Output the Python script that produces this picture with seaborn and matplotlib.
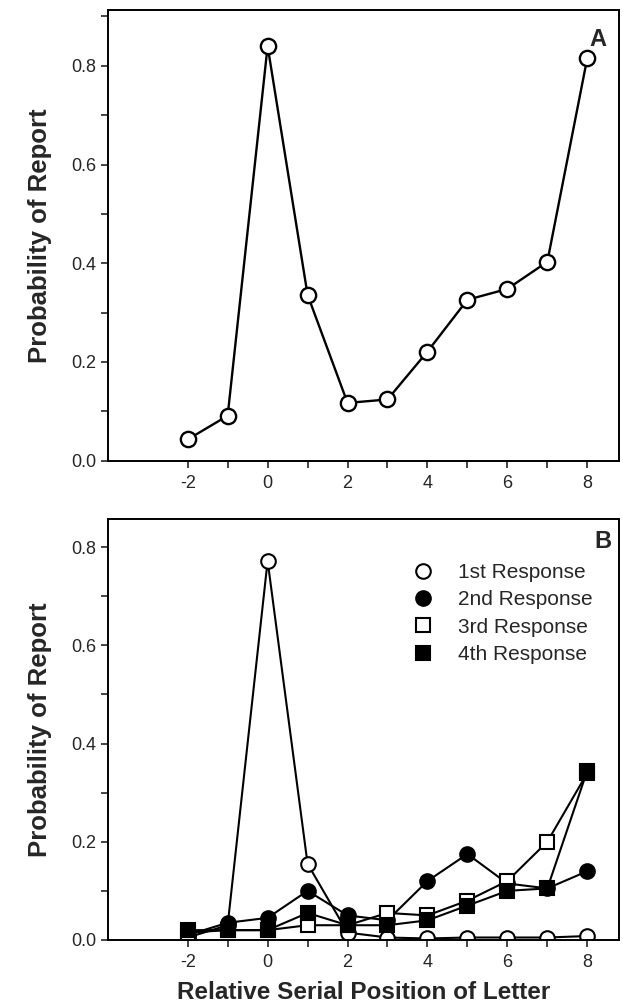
import numpy as np
import pandas as pd
import seaborn as sns
import matplotlib.pyplot as plt
from matplotlib.lines import Line2D
from matplotlib.ticker import MultipleLocator, FixedLocator

sns.set_style("ticks")
plt.rcParams['font.family'] = ['Liberation Sans', 'DejaVu Sans']
plt.rcParams['axes.unicode_minus'] = False

# serial positions relative to target
positions = [-2, -1, 0, 1, 2, 3, 4, 5, 6, 7, 8]

# panel A: overall probability of report
overall = [0.043, 0.091, 0.84, 0.336, 0.117, 0.124, 0.221, 0.326, 0.348, 0.403, 0.816]

# panel B: by response order
resp1 = [0.005, 0.03, 0.772, 0.155, 0.015, 0.005, 0.003, 0.005, 0.005, 0.005, 0.008]
resp2 = [0.01, 0.035, 0.045, 0.10, 0.05, 0.04, 0.12, 0.175, 0.115, 0.105, 0.14]
resp3 = [0.015, 0.02, 0.02, 0.03, 0.03, 0.055, 0.05, 0.08, 0.12, 0.20, 0.34]
resp4 = [0.02, 0.02, 0.02, 0.055, 0.03, 0.03, 0.04, 0.07, 0.10, 0.105, 0.345]
labels = ['1st Response', '2nd Response', '3rd Response', '4th Response']

fig = plt.figure(figsize=(6.23, 10.08), dpi=100)
axA = fig.add_axes([0.173, 0.543, 0.821, 0.447])
axB = fig.add_axes([0.173, 0.0675, 0.821, 0.4175])


def style_axis(ax, ytop):
    ax.set_xlim(-4, 8.8)
    ax.set_ylim(0, ytop)
    ax.xaxis.set_major_locator(FixedLocator([-2, 0, 2, 4, 6, 8]))
    ax.xaxis.set_minor_locator(FixedLocator([-1, 1, 3, 5, 7]))
    ax.yaxis.set_major_locator(MultipleLocator(0.2))
    ax.yaxis.set_minor_locator(MultipleLocator(0.1))
    ax.yaxis.set_major_formatter(plt.FuncFormatter(lambda v, p: f"{v:.1f}"))
    ax.tick_params(which='both', direction='out', length=5, width=1.2,
                   labelsize=13, top=False, right=False)
    ax.tick_params(axis='x', pad=5)
    ax.tick_params(axis='y', pad=3)
    for s in ax.spines.values():
        s.set_linewidth(1.4)
        s.set_color('black')
    ax.set_ylabel('Probability of Report', fontsize=18.5, fontweight='bold', labelpad=14)


# panel A
sns.lineplot(x=positions, y=overall, ax=axA, color='black', linewidth=1.7,
             marker='o', markersize=11, markerfacecolor='white',
             markeredgecolor='black', markeredgewidth=1.7)
style_axis(axA, 0.913)
axA.set_xlabel('')
axA.text(0.975, 0.96, 'A', transform=axA.transAxes, ha='right', va='top',
         fontsize=17, fontweight='bold')

# panel B
series = [resp1, resp2, resp3, resp4]
markers = ['o', 'o', 's', 's']
faces = ['white', 'black', 'white', 'black']
handles = []
for vals, lab, mk, fc in zip(series, labels, markers, faces):
    ms = 10.5 if mk == 'o' else 9.5
    sns.lineplot(x=positions, y=vals, ax=axB, color='black', linewidth=1.5,
                 marker=mk, markersize=ms, markerfacecolor=fc,
                 markeredgecolor='black', markeredgewidth=1.5)
    handles.append(Line2D([], [], linestyle='none', marker=mk, markersize=ms,
                          markerfacecolor=fc, markeredgecolor='black',
                          markeredgewidth=1.5))
style_axis(axB, 0.857)
axB.set_xlabel('Relative Serial Position of Letter', fontsize=17.5,
               fontweight='bold', labelpad=7)
axB.text(0.985, 0.975, 'B', transform=axB.transAxes, ha='right', va='top',
         fontsize=17, fontweight='bold')

axB.legend(handles, labels, loc='upper right', bbox_to_anchor=(0.985, 0.94),
           frameon=False, fontsize=15, handletextpad=1.1, labelspacing=0.4,
           handlelength=1.2)

plt.savefig('out.png', dpi=100)
